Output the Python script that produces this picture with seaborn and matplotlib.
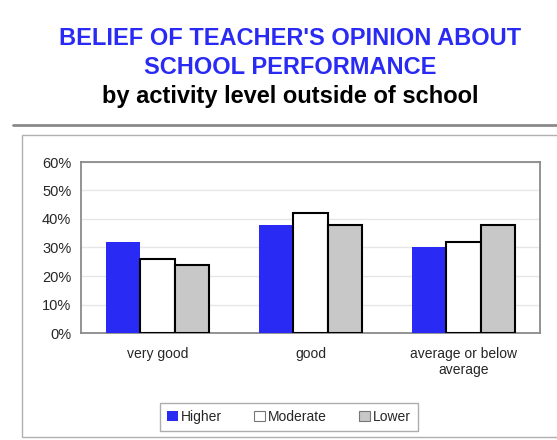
import matplotlib
matplotlib.use("Agg")
import matplotlib.pyplot as plt
import seaborn as sns
import pandas as pd
from matplotlib.patches import Rectangle
from matplotlib.lines import Line2D
from matplotlib.ticker import MultipleLocator, PercentFormatter

categories = ["very good", "good", "average or below\naverage"]
series = ["Higher", "Moderate", "Lower"]
higher = [32, 38, 30]
moderate = [26, 42, 32]
lower = [24, 38, 38]
colors = {"Higher": "#2a2af5", "Moderate": "#ffffff", "Lower": "#c8c8c8"}

rows = []
for s, vals in zip(series, [higher, moderate, lower]):
    for c, v in zip(categories, vals):
        rows.append({"category": c, "series": s, "value": v})
df = pd.DataFrame(rows)

sns.set_style("white")
plt.rcParams["font.family"] = ["Liberation Sans", "DejaVu Sans"]

fig = plt.figure(figsize=(5.57, 4.40), dpi=100)

# decorative frame: top rule and outer box
fig.add_artist(Line2D([13/557, 1.0], [1-125/440, 1-125/440], color="#8a8a8a", lw=2,
                      transform=fig.transFigure))
fig.add_artist(Rectangle((22/557, 1-437/440), 1.0, (437-135)/440, fill=False,
                         edgecolor="#b0b0b0", lw=1, transform=fig.transFigure))

fig.text(290/557, 1-38/440, "BELIEF OF TEACHER'S OPINION ABOUT",
         ha="center", va="center", color="#2a2af5", fontsize=17, fontweight="bold")
fig.text(290/557, 1-67/440, "SCHOOL PERFORMANCE",
         ha="center", va="center", color="#2a2af5", fontsize=17, fontweight="bold")
fig.text(290/557, 1-97/440, "by activity level outside of school", ha="center", va="center",
         color="black", fontsize=17, fontweight="bold")

ax = fig.add_axes([81/557, 1-333/440, (540-81)/557, (333-162)/440])
sns.barplot(data=df, x="category", y="value", hue="series", hue_order=series,
            order=categories, palette=colors, width=0.667, gap=0, saturation=1,
            ax=ax, legend=False)

for cont, s in zip(ax.containers, series):
    for p in cont:
        if s == "Higher":
            p.set_edgecolor("none")
            p.set_linewidth(0)
        else:
            p.set_edgecolor("black")
            p.set_linewidth(1.5)
        p.set_zorder(3)

ax.set_ylim(0, 60)
ax.yaxis.set_major_locator(MultipleLocator(10))
ax.yaxis.set_major_formatter(PercentFormatter(decimals=0))
ax.set_xlim(-0.5, 2.5)
ax.grid(axis="y", color="#e6e6e6", lw=1, zorder=0)
ax.set_axisbelow(True)
for sp in ax.spines.values():
    sp.set_color("#8a8a8a")
    sp.set_linewidth(1.3)
ax.set_xlabel("")
ax.set_ylabel("")
ax.tick_params(axis="y", length=0, labelsize=10.5, pad=7)
ax.tick_params(axis="x", length=0, labelsize=10, pad=10)

handles = [Rectangle((0, 0), 1, 1, facecolor=colors[s],
                     edgecolor=("none" if s == "Higher" else "#777777"), lw=0.8)
           for s in series]
leg = fig.legend(handles, series, loc="center", bbox_to_anchor=(289/557, 1-417/440),
                 ncol=3, fontsize=10, frameon=True, fancybox=False, handlelength=0.8,
                 handleheight=0.8, handletextpad=0.2, columnspacing=2.3,
                 borderpad=0.5, borderaxespad=0)
leg.get_frame().set_edgecolor("#999999")
leg.get_frame().set_linewidth(1)

fig.savefig("out.png", dpi=100)
